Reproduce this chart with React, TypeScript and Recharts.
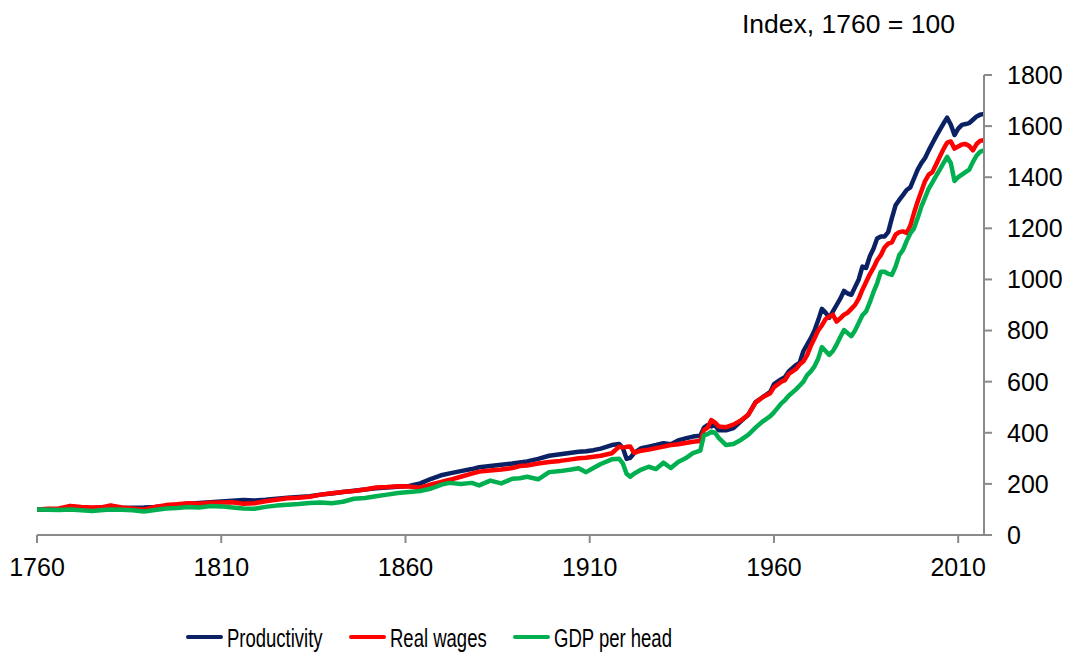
import React from 'react';
import { LineChart, Line, XAxis, YAxis } from 'recharts';

const years = [
  1760, 1763, 1766, 1769, 1772, 1775, 1778, 1780, 1783, 1786,
  1789, 1792, 1795, 1798, 1801, 1804, 1807, 1810, 1813, 1816,
  1819, 1822, 1825, 1828, 1831, 1834, 1837, 1840, 1843, 1846,
  1849, 1852, 1855, 1858, 1861, 1864, 1867, 1870, 1872, 1875,
  1878, 1880, 1883, 1886, 1889, 1891, 1893, 1896, 1899, 1902,
  1905, 1907, 1909, 1911, 1913, 1916, 1918, 1919, 1920, 1921,
  1922, 1924, 1926, 1928, 1930, 1932, 1934, 1936, 1938, 1940,
  1941, 1942, 1943, 1944, 1945, 1947, 1949, 1951, 1953, 1955,
  1957, 1959, 1960, 1962, 1963, 1964, 1966, 1967, 1968, 1969,
  1970, 1971, 1972, 1973, 1974, 1975, 1976, 1977, 1978, 1979,
  1980, 1981, 1982, 1983, 1984, 1985, 1986, 1987, 1988, 1989,
  1990, 1991, 1992, 1993, 1994, 1995, 1996, 1997, 1998, 1999,
  2000, 2001, 2002, 2003, 2004, 2005, 2006, 2007, 2008, 2009,
  2010, 2011, 2012, 2013, 2014, 2015, 2016, 2017,
];

const productivity = [
  100, 100, 101, 102, 103, 104, 105, 106, 106, 107,
  108, 110, 114, 118, 122, 125, 128, 131, 134, 137,
  135, 138, 142, 146, 149, 152, 158, 162, 168, 173,
  178, 183, 186, 189, 192, 202, 220, 235, 241, 250,
  258, 265, 270, 275, 280, 284, 288, 298, 310, 316,
  322, 326, 328, 332, 338, 352, 356, 340, 298, 302,
  320, 340, 346, 352, 359, 355, 370, 378, 385, 388,
  420, 430, 425, 430, 410, 410, 418, 445, 470, 520,
  540, 560, 590, 610, 618, 640, 665, 675, 720, 745,
  770, 800, 840, 885, 870, 850, 875, 900, 925, 955,
  945, 940, 970, 1000, 1050, 1045, 1090, 1120, 1160, 1168,
  1168, 1185, 1240, 1290, 1311, 1330, 1350, 1360, 1395, 1430,
  1455, 1475, 1505, 1533, 1560, 1585, 1610, 1633, 1605, 1565,
  1590, 1605, 1608, 1612, 1625, 1638, 1645, 1648,
];

const realWages = [
  100, 103, 104, 114, 110, 108, 110, 116, 108, 104,
  100, 110, 117, 120, 124, 122, 126, 127, 128, 122,
  124, 132, 138, 144, 146, 150, 158, 163, 168, 172,
  178, 186, 188, 191, 190, 185, 198, 209, 216, 228,
  240, 248, 252, 256, 262, 270, 272, 280, 286, 290,
  296, 300, 302, 306, 310, 320, 346, 342, 345, 346,
  322, 330, 334, 340, 346, 352, 355, 360, 365, 368,
  410, 420, 450, 440, 425, 422, 432, 448, 470, 518,
  540, 555, 578, 600, 606, 630, 650, 668, 680, 704,
  740, 770, 800, 820, 845, 855, 862, 835, 848, 862,
  870, 885, 900, 925, 960, 990, 1020, 1045, 1075, 1095,
  1125, 1140, 1145, 1175, 1185, 1188, 1182, 1210, 1260, 1305,
  1345, 1385, 1410, 1420, 1450, 1480, 1510, 1535, 1540, 1512,
  1520, 1528, 1530, 1522, 1505, 1530, 1543, 1545,
];

const gdpPerHead = [
  100, 99, 98, 100, 97, 94, 98, 100, 99, 97,
  92, 98, 104, 106, 110, 108, 113, 112, 108, 104,
  103, 110, 115, 118, 121, 125, 127, 124, 130, 142,
  145, 152, 158, 164, 168, 172, 182, 198, 204, 200,
  204, 194, 213, 202, 220, 222, 228, 218, 246, 250,
  256, 261, 246, 262, 278, 296, 298, 280, 240, 228,
  240, 256, 267, 258, 283, 262, 286, 300, 320, 330,
  390, 395, 404, 400, 380, 352, 356, 372, 392, 420,
  445, 465, 480, 515, 528, 545, 570, 585, 600, 626,
  640, 660, 690, 735, 720, 705, 720, 745, 775, 802,
  790, 778, 800, 830, 860, 875, 910, 950, 985, 1030,
  1030, 1022, 1018, 1050, 1095, 1115, 1150, 1180, 1200, 1240,
  1285, 1320, 1355, 1380, 1405, 1430, 1455, 1480, 1455, 1385,
  1400, 1410, 1420, 1430, 1460, 1485, 1500, 1505,
];

const seriesNames = ['Productivity', 'Real wages', 'GDP per head'];
const seriesColors = ['#0a2164', '#ff0000', '#00b050'];
const xTicks = [1760, 1810, 1860, 1910, 1960, 2010];
const yTicks = [0, 200, 400, 600, 800, 1000, 1200, 1400, 1600, 1800];
const unitLabel = 'Index, 1760 = 100';

const data = years.map((year, i) => ({
  year,
  p: productivity[i],
  w: realWages[i],
  g: gdpPerHead[i],
}));

const FONT = "'Liberation Sans', Arial, Helvetica, sans-serif";
const AXIS_GREY = '#8a8a8a';
const legendLefts = [186, 349, 513];
const keys = ['p', 'w', 'g'];

export default function App() {
  return (
    <div
      style={{
        position: 'absolute',
        left: 0,
        top: 0,
        width: 1069,
        height: 653,
        background: '#ffffff',
        fontFamily: FONT,
        overflow: 'hidden',
      }}
    >
      <LineChart
        width={1069}
        height={653}
        data={data}
        margin={{ top: 75, right: 0, bottom: 78, left: 37 }}
      >
        <XAxis
          dataKey="year"
          type="number"
          domain={[1760, 2017]}
          ticks={xTicks}
          interval={0}
          allowDataOverflow
          height={40}
          tickSize={8}
          tickMargin={15}
          axisLine={{ stroke: AXIS_GREY, strokeWidth: 2 }}
          tickLine={{ stroke: AXIS_GREY, strokeWidth: 2 }}
          tick={{ fill: '#000000', fontSize: 25, fontFamily: FONT }}
        />
        <YAxis
          orientation="right"
          type="number"
          domain={[0, 1800]}
          ticks={yTicks}
          interval={0}
          width={85}
          tickSize={8}
          tickMargin={15}
          axisLine={{ stroke: AXIS_GREY, strokeWidth: 2 }}
          tickLine={{ stroke: AXIS_GREY, strokeWidth: 2 }}
          tick={{ fill: '#000000', fontSize: 25, fontFamily: FONT, textAnchor: 'start' }}
        />
        {keys.map((k, i) => (
          <Line
            key={k}
            dataKey={k}
            name={seriesNames[i]}
            type="linear"
            stroke={seriesColors[i]}
            strokeWidth={4.5}
            strokeLinejoin="round"
            dot={false}
            activeDot={false}
            isAnimationActive={false}
          />
        ))}
      </LineChart>

      <div
        style={{
          position: 'absolute',
          left: 742,
          top: 11,
          fontSize: 26.5,
          lineHeight: '26px',
          color: '#000',
          whiteSpace: 'nowrap',
        }}
      >
        {unitLabel}
      </div>

      {seriesNames.map((name, i) => (
        <div
          key={name}
          style={{
            position: 'absolute',
            left: legendLefts[i],
            top: 626,
            height: 25,
            whiteSpace: 'nowrap',
          }}
        >
          <div
            style={{
              position: 'absolute',
              left: 0,
              top: 9,
              width: 37,
              height: 4,
              borderRadius: 2,
              background: seriesColors[i],
            }}
          />
          <div
            style={{
              position: 'absolute',
              left: 41,
              top: 0,
              fontSize: 25,
              lineHeight: '25px',
              color: '#000',
              transform: 'scaleX(0.74)',
              transformOrigin: 'left top',
            }}
          >
            {name}
          </div>
        </div>
      ))}
    </div>
  );
}
